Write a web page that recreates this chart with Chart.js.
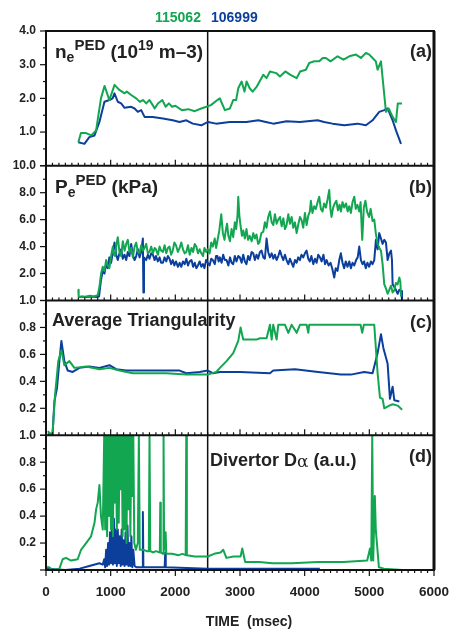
<!DOCTYPE html>
<html><head><meta charset="utf-8">
<script src="https://cdn.jsdelivr.net/npm/chart.js@4/dist/chart.umd.min.js"></script>
<style>html,body{margin:0;padding:0;background:#fff}#wrap{position:relative;width:449px;height:631px}</style>
</head><body><div id="wrap"><canvas id="c" width="449" height="631"></canvas></div>
<script>
// ---------- DATA (time in msec, value) ----------
const shotNames = ['115062', '106999'];
const xTicks = [0, 1000, 2000, 3000, 4000, 5000, 6000];
const xTitle = 'TIME  (msec)';

const neGreen = [[500,0.70],[540,0.97],[620,0.97],[700,0.90],[775,1.05],[850,2.0],[905,2.37],[980,1.95],[1060,2.40],[1135,2.25],[1215,2.15],[1250,2.2],[1317,2.1],[1395,2.0],[1450,1.9],[1500,1.95],[1550,1.85],[1600,1.95],[1650,1.8],[1680,1.7],[1730,1.85],[1800,1.95],[1850,1.75],[1900,1.85],[1950,1.75],[2000,1.78],[2100,1.65],[2200,1.68],[2300,1.62],[2400,1.7],[2480,1.75],[2550,1.8],[2650,1.95],[2689,2.0],[2710,1.9],[2766,1.65],[2844,1.7],[2895,1.95],[2940,1.95],[2973,2.3],[3025,2.5],[3070,2.2],[3102,2.5],[3150,2.3],[3195,2.2],[3260,2.35],[3360,2.7],[3410,2.6],[3463,2.8],[3560,2.75],[3618,2.65],[3700,2.8],[3780,2.7],[3876,2.6],[3930,2.8],[4019,2.85],[4070,3.05],[4150,3.1],[4225,3.1],[4280,3.2],[4328,3.2],[4400,3.1],[4509,3.25],[4600,3.15],[4690,3.25],[4793,3.3],[4870,3.2],[4947,3.35],[5000,3.3],[5050,3.2],[5100,3.1],[5128,2.85],[5180,3.1],[5257,1.6],[5300,1.7],[5360,1.45],[5412,1.3],[5440,1.85],[5505,1.85]];
const neBlue = [[500,0.70],[594,0.65],[670,0.85],[750,0.9],[826,1.3],[904,1.9],[980,1.95],[1030,2.0],[1059,2.15],[1110,1.9],[1162,1.85],[1215,1.72],[1317,1.75],[1370,1.7],[1420,1.6],[1472,1.65],[1524,1.45],[1650,1.45],[1808,1.4],[1960,1.35],[2066,1.3],[2170,1.35],[2270,1.25],[2402,1.2],[2505,1.3],[2630,1.25],[2841,1.3],[3000,1.3],[3100,1.3],[3282,1.35],[3400,1.3],[3514,1.25],[3720,1.32],[3925,1.3],[4200,1.35],[4300,1.3],[4431,1.25],[4612,1.2],[4818,1.25],[4947,1.2],[5050,1.35],[5153,1.6],[5230,1.65],[5283,1.7],[5360,1.35],[5412,1.05],[5490,0.65]];

const peGreen = [[500,0.8],[505,0.3],[560,0.25],[620,0.3],[680,0.35],[740,0.3],[800,0.4],[826,1.0],[852,2.0],[878,2.5],[904,2.2],[930,3.0],[955,2.6],[980,2.4],[1007,3.3],[1033,4.0],[1050,3.4],[1070,3.3],[1090,4.2],[1110,4.7],[1136,3.6],[1162,3.3],[1188,4.4],[1215,3.7],[1240,4.2],[1265,4.5],[1290,3.6],[1317,3.9],[1343,3.2],[1370,4.0],[1395,4.3],[1420,3.6],[1446,3.5],[1472,4.1],[1498,3.7],[1524,3.9],[1550,4.2],[1575,3.5],[1600,3.6],[1627,4.0],[1653,3.5],[1680,3.9],[1700,3.8],[1730,3.4],[1756,4.0],[1780,3.7],[1808,3.6],[1834,4.1],[1860,3.5],[1885,3.9],[1910,4.0],[1935,3.4],[1960,3.7],[1985,4.3],[2010,4.1],[2040,3.6],[2066,3.9],[2092,4.3],[2118,3.8],[2145,3.5],[2170,3.6],[2196,4.1],[2222,3.4],[2250,3.9],[2275,3.6],[2300,4.2],[2325,4.0],[2350,3.5],[2376,3.8],[2402,3.5],[2428,3.3],[2450,3.9],[2476,3.6],[2500,3.8],[2530,3.5],[2555,4.3],[2580,4.0],[2610,4.6],[2630,3.9],[2650,4.4],[2680,5.2],[2710,6.4],[2735,5.0],[2760,4.5],[2780,5.2],[2800,5.7],[2820,4.8],[2845,4.4],[2870,5.3],[2895,4.7],[2920,5.8],[2940,5.3],[2960,6.2],[2973,7.7],[2990,6.3],[3010,5.5],[3030,4.8],[3050,5.2],[3075,4.6],[3100,5.3],[3125,4.5],[3150,4.8],[3180,4.4],[3205,5.0],[3230,4.6],[3255,4.9],[3280,4.2],[3300,4.3],[3330,5.0],[3360,5.1],[3385,5.8],[3410,5.4],[3436,6.2],[3463,6.6],[3490,5.8],[3515,5.6],[3540,6.4],[3566,5.7],[3592,6.0],[3618,6.2],[3645,5.5],[3670,6.1],[3695,5.3],[3720,5.6],[3747,6.4],[3772,5.7],[3798,6.2],[3824,5.4],[3850,5.8],[3876,5.0],[3900,5.6],[3927,6.2],[3950,6.0],[3978,5.4],[4004,6.5],[4030,5.6],[4056,6.3],[4080,6.6],[4096,7.4],[4120,6.5],[4147,7.0],[4173,6.8],[4200,7.3],[4225,7.7],[4250,6.8],[4276,6.6],[4300,7.2],[4328,6.9],[4354,7.5],[4380,8.2],[4398,6.8],[4415,6.2],[4440,6.9],[4465,7.2],[4490,7.4],[4515,6.7],[4540,7.1],[4560,6.6],[4585,7.3],[4610,6.9],[4640,7.2],[4665,6.6],[4690,7.0],[4715,6.5],[4740,7.3],[4767,7.7],[4790,6.8],[4815,7.1],[4844,6.6],[4865,7.3],[4890,4.5],[4915,6.9],[4940,7.4],[4965,6.6],[4995,6.2],[5020,6.8],[5050,5.9],[5076,6.0],[5100,5.0],[5128,4.2],[5155,3.9],[5180,3.7],[5205,2.7],[5231,1.2],[5257,0.9],[5283,0.5],[5310,0.8],[5335,1.1],[5360,0.6],[5386,0.75],[5410,1.3],[5438,1.2],[5464,1.7],[5480,1.4],[5490,0.3]];
const peBlue = [[500,0.25],[560,0.3],[620,0.25],[700,0.3],[780,0.25],[820,0.3],[850,1.5],[878,2.2],[904,2.0],[930,2.7],[955,2.4],[980,3.2],[1007,2.8],[1033,3.6],[1059,4.3],[1085,3.4],[1110,3.0],[1136,3.5],[1162,3.8],[1188,3.1],[1215,3.4],[1240,3.0],[1265,3.6],[1290,3.3],[1317,4.2],[1343,3.4],[1370,3.0],[1395,3.3],[1420,3.8],[1446,3.2],[1472,3.6],[1498,4.6],[1506,0.6],[1515,3.2],[1550,3.0],[1575,3.4],[1600,3.1],[1627,3.5],[1653,3.4],[1680,3.0],[1700,3.3],[1730,2.9],[1756,3.2],[1780,2.8],[1808,2.8],[1834,3.2],[1860,2.9],[1885,3.3],[1910,3.1],[1935,2.7],[1960,3.0],[1985,2.6],[2010,2.9],[2040,2.5],[2066,2.8],[2092,2.5],[2118,2.9],[2145,2.7],[2170,3.1],[2196,2.6],[2222,2.9],[2250,3.0],[2275,2.5],[2300,2.8],[2325,2.4],[2350,2.6],[2376,2.9],[2402,2.5],[2428,2.7],[2450,2.4],[2476,3.0],[2500,2.8],[2530,2.6],[2555,3.1],[2580,3.0],[2610,2.7],[2630,3.3],[2650,3.3],[2670,2.9],[2689,3.2],[2715,2.8],[2740,3.4],[2765,3.0],[2792,3.0],[2820,2.6],[2845,3.2],[2870,2.8],[2895,2.7],[2920,3.3],[2945,2.9],[2973,3.3],[2998,3.2],[3025,2.8],[3050,3.4],[3075,2.9],[3100,2.7],[3125,3.3],[3150,3.0],[3180,3.6],[3205,3.5],[3230,3.0],[3255,3.4],[3280,3.1],[3308,3.6],[3334,3.7],[3360,3.2],[3385,3.1],[3411,4.6],[3436,3.6],[3463,3.2],[3490,3.5],[3515,3.1],[3540,3.4],[3566,3.0],[3592,3.3],[3618,3.7],[3645,3.3],[3670,3.0],[3695,3.4],[3720,3.0],[3747,2.7],[3772,3.1],[3798,2.8],[3824,2.5],[3850,3.0],[3876,2.8],[3900,3.2],[3927,3.0],[3950,3.4],[3978,3.2],[4004,3.5],[4030,3.7],[4056,3.1],[4080,2.9],[4104,3.3],[4133,2.7],[4160,3.1],[4185,2.8],[4210,3.4],[4237,3.2],[4262,2.9],[4290,3.4],[4315,2.7],[4340,3.0],[4370,2.6],[4400,2.8],[4430,2.3],[4457,1.7],[4480,2.4],[4508,2.2],[4535,3.0],[4560,3.5],[4585,2.8],[4610,2.4],[4635,2.9],[4663,2.5],[4690,2.9],[4715,2.4],[4740,2.8],[4767,2.6],[4795,3.0],[4820,3.2],[4844,4.0],[4870,3.0],[4895,2.7],[4920,2.9],[4945,2.4],[4970,2.8],[4998,2.5],[5025,2.9],[5050,2.7],[5076,3.0],[5102,4.5],[5128,3.8],[5153,5.0],[5180,4.6],[5205,4.2],[5231,4.5],[5257,4.3],[5283,3.0],[5310,3.5],[5335,3.7],[5350,3.0],[5360,1.2],[5400,0.9],[5438,0.5],[5464,0.8],[5490,0.7],[5505,0.1]];

const triGreen = [[26,0.03],[100,0.0],[140,0.3],[190,0.55],[238,0.63],[284,0.52],[362,0.55],[439,0.5],[620,0.51],[826,0.49],[981,0.5],[1136,0.48],[1343,0.46],[1860,0.46],[2170,0.45],[2500,0.45],[2634,0.47],[2689,0.5],[2792,0.55],[2895,0.61],[2973,0.70],[3009,0.80],[3050,0.71],[3256,0.71],[3308,0.72],[3411,0.72],[3463,0.82],[3490,0.71],[3514,0.82],[3566,0.71],[3592,0.82],[3695,0.82],[3747,0.76],[3798,0.82],[3876,0.76],[3927,0.82],[4030,0.82],[4056,0.76],[4070,0.82],[4864,0.82],[4890,0.76],[4915,0.82],[5076,0.82],[5128,0.46],[5164,0.28],[5205,0.27],[5231,0.2],[5309,0.22],[5360,0.23],[5438,0.22],[5507,0.19]];
const triBlue = [[26,0.01],[100,0.0],[130,0.25],[170,0.35],[207,0.55],[238,0.7],[284,0.55],[336,0.48],[413,0.47],[517,0.5],[671,0.51],[826,0.5],[981,0.52],[1085,0.49],[1240,0.48],[2066,0.48],[2170,0.46],[2376,0.47],[2500,0.48],[2583,0.46],[2689,0.47],[3000,0.47],[3463,0.46],[3514,0.48],[3850,0.49],[4210,0.47],[4560,0.45],[4715,0.45],[4920,0.47],[5050,0.46],[5128,0.61],[5180,0.75],[5216,0.65],[5283,0.53],[5319,0.27],[5360,0.36],[5386,0.26],[5464,0.25]];

const daGreen = [[0,0.02],[50,0.02],[100,0.0],[207,0.01],[258,0.08],[310,0.09],[387,0.07],[490,0.08],[542,0.15],[620,0.2],[697,0.25],[750,0.35],[775,0.45],[800,0.5],[826,0.63],[850,0.4],[878,0.3],[900,1.0],[915,0.3],[930,1.0],[945,0.25],[960,1.0],[975,0.4],[990,1.0],[1005,0.3],[1020,1.0],[1035,0.25],[1050,1.0],[1065,0.5],[1080,1.0],[1095,0.3],[1110,1.0],[1125,0.35],[1140,1.0],[1155,0.6],[1170,1.0],[1185,0.25],[1200,1.0],[1215,0.3],[1230,1.0],[1245,0.2],[1260,1.0],[1275,0.45],[1290,1.0],[1305,0.25],[1320,1.0],[1335,0.55],[1350,1.0],[1365,0.2],[1390,0.15],[1420,0.2],[1436,1.0],[1450,0.15],[1500,0.15],[1560,0.14],[1590,0.14],[1601,1.0],[1612,0.14],[1660,0.13],[1700,0.14],[1760,0.13],[1767,0.5],[1775,0.13],[1810,0.12],[1818,1.0],[1826,0.15],[1850,0.28],[1860,0.12],[1950,0.12],[2050,0.11],[2110,0.12],[2160,0.11],[2169,1.0],[2178,0.11],[2300,0.1],[2400,0.1],[2500,0.1],[2600,0.12],[2700,0.13],[2741,0.15],[2790,0.09],[2900,0.1],[3009,0.1],[3035,0.16],[3080,0.06],[3300,0.06],[3500,0.05],[3800,0.05],[4200,0.06],[4600,0.06],[4967,0.07],[5010,0.16],[5030,0.07],[5045,1.0],[5060,0.07],[5085,0.55],[5100,0.3],[5148,0.02],[5225,0.01],[5507,0.0]];
const daBlue = [[0,0.01],[300,0.0],[520,0.01],[670,0.03],[826,0.05],[878,0.04],[900,0.08],[915,0.02],[930,0.15],[945,0.03],[960,0.2],[975,0.04],[990,0.28],[1005,0.05],[1020,0.3],[1035,0.04],[1050,0.38],[1065,0.05],[1080,0.3],[1095,0.03],[1110,0.3],[1125,0.05],[1140,0.25],[1155,0.03],[1170,0.3],[1185,0.04],[1200,0.22],[1215,0.03],[1230,0.28],[1245,0.04],[1260,0.33],[1275,0.03],[1290,0.2],[1305,0.03],[1320,0.25],[1335,0.02],[1350,0.15],[1370,0.03],[1400,0.02],[1490,0.02],[1498,0.43],[1506,0.02],[1835,0.02],[1844,0.13],[1852,0.02],[2500,0.01],[3500,0.01],[4235,0.01]];

// ---------- STYLE ----------
const GREEN = '#12a650', BLUE = '#0c3f9c', INK = '#222';
const FONT = '"Liberation Sans", Arial, Helvetica, sans-serif';
const toXY = arr => arr.map(([x, y]) => ({x, y}));
const ds = (arr, color, axis) => ({data: toXY(arr), borderColor: color, borderWidth: 2, pointRadius: 0, tension: 0, yAxisID: axis, borderJoinStyle: 'round', fill: false});

const panelDefs = [
  {id: 'ya', min: 0, max: 4, major: 1, minor: 0.5},
  {id: 'yb', min: 0, max: 10, major: 2, minor: 1},
  {id: 'yc', min: 0, max: 1, major: 0.2, minor: 0.1},
  {id: 'yd', min: 0, max: 1, major: 0.2, minor: 0.1}
];

function yScale(p) {
  return {
    type: 'linear', position: 'left', stack: 'panels', stackWeight: 1, offset: false,
    min: p.min, max: p.max,
    grid: {display: false, drawTicks: false}, border: {display: false},
    ticks: {stepSize: p.major, autoSkip: false, padding: 10, color: INK,
      font: {family: FONT, size: 12, weight: 'bold'},
      callback: v => (Math.abs(v - p.min) < 1e-9 ? '' : Number(v).toFixed(1))},
    afterFit: s => { s.width = 46; }
  };
}

function rich(ctx, x, y, segs) {
  for (const s of segs) {
    ctx.font = `${s.w || 'bold'} ${s.size}px ${s.f || FONT}`;
    ctx.fillText(s.t, x, y + (s.dy || 0));
    x += ctx.measureText(s.t).width;
  }
}

const decor = {
  id: 'decor',
  beforeDatasetsDraw(chart) {
    const {ctx, chartArea: ca, scales} = chart;
    const px = scales.x.getPixelForValue(2500);
    ctx.save(); ctx.strokeStyle = '#111'; ctx.lineWidth = 1.5;
    ctx.beginPath(); ctx.moveTo(px, ca.top); ctx.lineTo(px, ca.bottom); ctx.stroke();
    ctx.restore();
  },
  afterDraw(chart) {
    const {ctx, chartArea: ca, scales} = chart;
    const xs = scales.x;
    ctx.save();
    ctx.strokeStyle = '#111'; ctx.lineWidth = 1.2;
    panelDefs.forEach((p, i) => {
      const s = scales[p.id];
      const yb = s.bottom; const last = i === panelDefs.length - 1;
      for (let t = 0; t <= 6000; t += 100) {
        const x = xs.getPixelForValue(t);
        const len = t % 1000 === 0 ? 6 : 3;
        ctx.beginPath(); ctx.moveTo(x, yb); ctx.lineTo(x, last ? yb + len : yb - len); ctx.stroke();
      }
      const n = Math.round((p.max - p.min) / p.minor);
      const ratio = Math.round(p.major / p.minor);
      for (let k = 0; k <= n; k++) {
        const v = p.min + k * p.minor;
        const y = s.getPixelForValue(v);
        const len = k % ratio === 0 ? 6 : 3;
        ctx.beginPath(); ctx.moveTo(ca.left, y); ctx.lineTo(ca.left - len, y); ctx.stroke();
      }
    });
    ctx.lineWidth = 2;
    ctx.strokeRect(ca.left, ca.top, ca.right - ca.left, ca.bottom - ca.top);
    ctx.lineWidth = 3;
    ctx.beginPath(); ctx.moveTo(ca.right, ca.top); ctx.lineTo(ca.right, ca.bottom); ctx.stroke();
    ctx.lineWidth = 2;
    panelDefs.slice(0, 3).forEach(p => {
      const y = scales[p.id].bottom;
      ctx.beginPath(); ctx.moveTo(ca.left, y); ctx.lineTo(ca.right, y); ctx.stroke();
    });
    ctx.fillStyle = INK; ctx.textBaseline = 'alphabetic'; ctx.textAlign = 'left';
    const ya = scales.ya.top, yb = scales.yb.top, yc = scales.yc.top, yd = scales.yd.top;
    rich(ctx, 55, ya + 27, [{t: 'n', size: 19}, {t: 'e', size: 14, dy: 4}, {t: 'PED', size: 15, dy: -8}, {t: ' (10', size: 19}, {t: '19', size: 14, dy: -8}, {t: ' m\u20133)', size: 19}]);
    rich(ctx, 55, yb + 27, [{t: 'P', size: 19}, {t: 'e', size: 14, dy: 4}, {t: 'PED', size: 15, dy: -8}, {t: ' (kPa)', size: 19}]);
    rich(ctx, 52, yc + 25, [{t: 'Average Triangularity', size: 18}]);
    rich(ctx, 210, yd + 31, [{t: 'Divertor D', size: 18}, {t: '\u03b1', size: 17, w: 'normal', f: '"DejaVu Serif", serif', dy: 1}, {t: ' (a.u.)', size: 18}]);
    ctx.textAlign = 'right';
    ctx.font = `bold 18px ${FONT}`;
    ctx.fillText('(a)', 432, ya + 26);
    ctx.fillText('(b)', 432, yb + 27);
    ctx.fillText('(c)', 432, yc + 27);
    ctx.fillText('(d)', 432, yd + 27);
    // x-axis title
    ctx.textAlign = 'center'; ctx.font = `bold 14px ${FONT}`;
    ctx.fillText(xTitle, 249, 626);
    // legend
    ctx.textAlign = 'left';
    ctx.fillStyle = GREEN; ctx.fillText(shotNames[0], 155, 22);
    ctx.fillStyle = BLUE; ctx.fillText(shotNames[1], 211, 22);
    ctx.restore();
  }
};

// stacked left axes are laid out bottom-up, so the bottom panel is listed first
new Chart(document.getElementById('c'), {
  type: 'line',
  data: {datasets: [
    ds(neGreen, GREEN, 'ya'), ds(neBlue, BLUE, 'ya'),
    ds(peGreen, GREEN, 'yb'), ds(peBlue, BLUE, 'yb'),
    ds(triGreen, GREEN, 'yc'), ds(triBlue, BLUE, 'yc'),
    ds(daGreen, GREEN, 'yd'), ds(daBlue, BLUE, 'yd')
  ]},
  options: {
    responsive: false, animation: false, devicePixelRatio: 1,
    layout: {padding: {top: 31, right: 15, left: 0, bottom: 0}},
    plugins: {legend: {display: false}, tooltip: {enabled: false}},
    scales: {
      x: {type: 'linear', position: 'bottom', min: 0, max: 6000,
        grid: {display: false, drawTicks: false}, border: {display: false},
        afterBuildTicks: s => { s.ticks = xTicks.map(v => ({value: v})); },
        ticks: {padding: 14, color: INK, maxRotation: 0, autoSkip: false, font: {family: FONT, size: 13.5, weight: 'bold'}, callback: v => String(v)},
        title: {display: false},
        afterFit: s => { s.height = 61; s.paddingRight = 0; s.paddingLeft = 0; }
      },
      yd: yScale(panelDefs[3]),
      yc: yScale(panelDefs[2]),
      yb: yScale(panelDefs[1]),
      ya: yScale(panelDefs[0])
    }
  },
  plugins: [decor]
});
</script></body></html>
